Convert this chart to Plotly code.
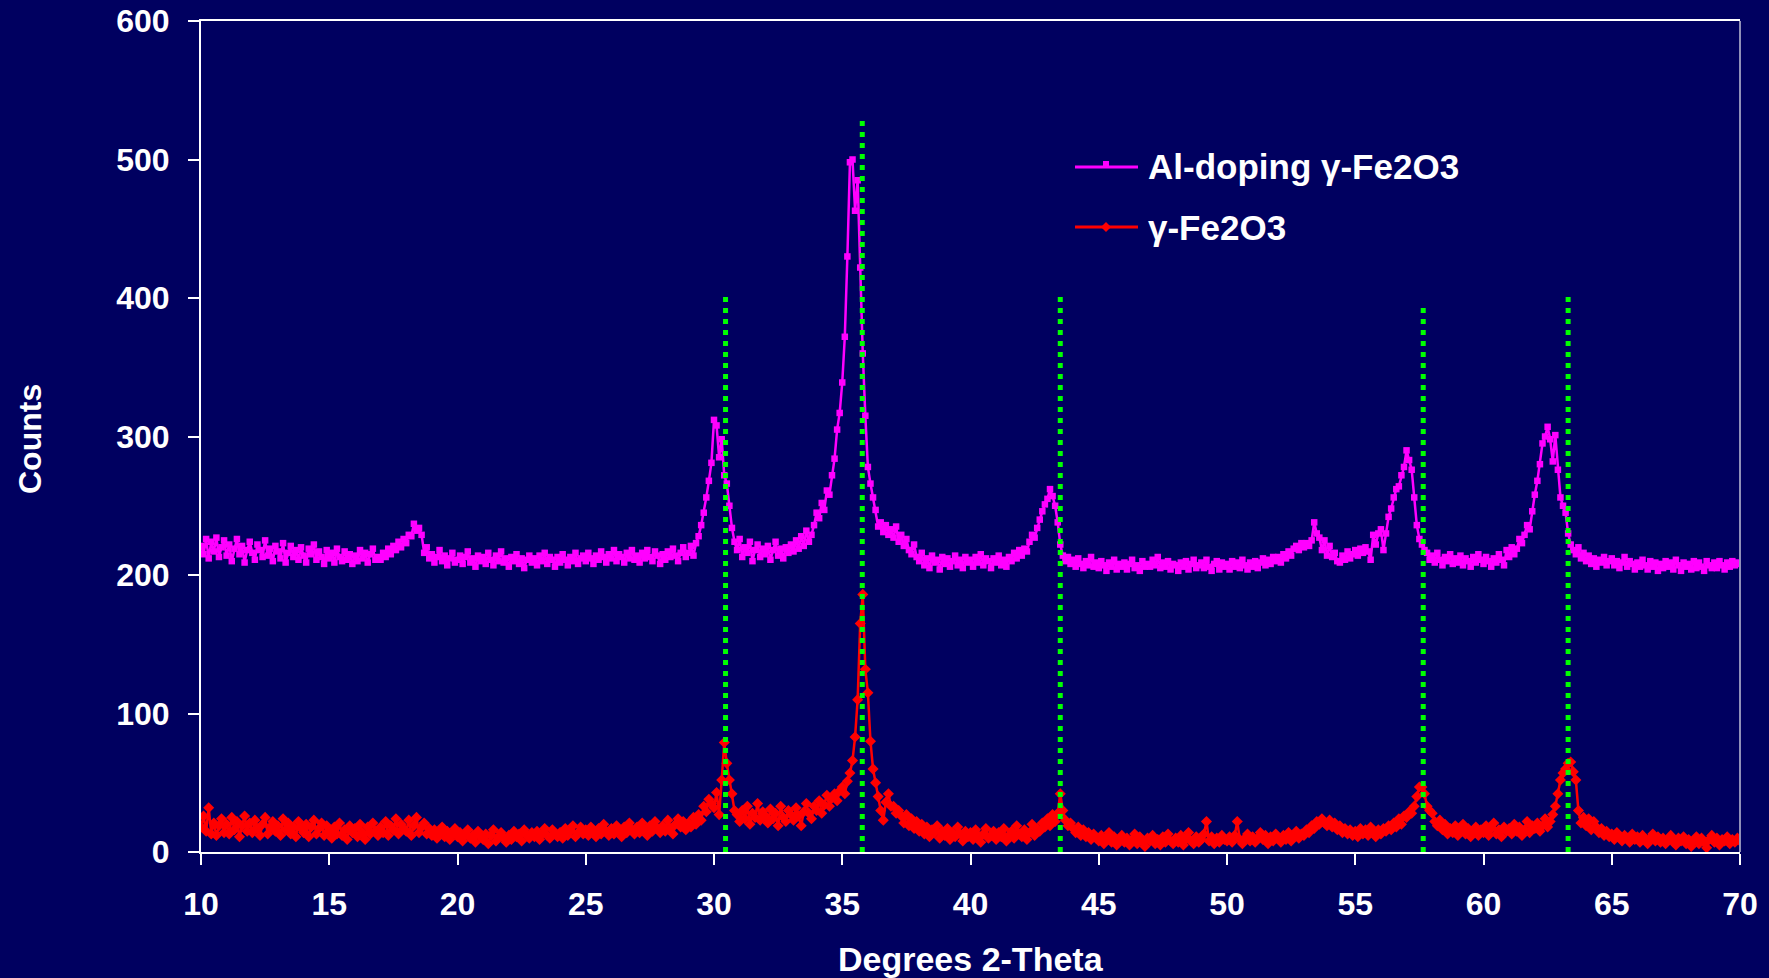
import plotly.graph_objects as go

# ---------------- data ----------------
two_theta_start = 10.0
two_theta_step = 0.1

al_doped_counts = [
    221, 215, 226, 212, 224, 217, 227, 213, 220, 225,   # 10
    214, 222, 210, 219, 226, 215, 221, 209, 218, 224,   # 11
    216, 211, 222, 218, 213, 225, 214, 219, 210, 221,   # 12
    217, 212, 223, 209, 216, 221, 213, 218, 211, 220,   # 13
    214, 209, 219, 215, 222, 211, 217, 213, 208, 218,   # 14
    212, 216, 209, 219, 213, 210, 217, 211, 215, 208,   # 15
    214, 210, 218, 212, 216, 209, 215, 219, 211, 213,   # 16
    211, 216, 213, 219, 215, 221, 218, 224, 220, 226,   # 17
    223, 229, 228, 237, 232, 234, 229, 216, 220, 212,   # 18
    215, 209, 213, 218, 210, 214, 207, 212, 216, 209,   # 19
    211, 214, 208, 213, 217, 209, 212, 206, 214, 210,   # 20
    213, 208, 216, 211, 207, 214, 210, 217, 209, 212,   # 21
    206, 213, 210, 215, 208, 212, 205, 211, 214, 209,   # 22
    212, 207, 214, 210, 216, 208, 213, 211, 206, 213,   # 23
    209, 215, 211, 207, 213, 210, 216, 208, 212, 214,   # 24
    210, 216, 212, 208, 214, 211, 217, 213, 209, 215,   # 25
    212, 218, 210, 215, 213, 209, 216, 212, 218, 211,   # 26
    214, 209, 216, 212, 218, 213, 210, 217, 214, 208,   # 27
    215, 211, 217, 213, 219, 214, 210, 216, 220, 213,   # 28
    216, 221, 214, 223, 228, 236, 245, 256, 268, 281,   # 29
    312, 308, 285, 298, 272, 266, 250, 234, 224, 218,   # 30
    226, 213, 220, 216, 224, 210, 218, 222, 213, 219,   # 31
    215, 221, 211, 218, 224, 214, 219, 212, 220, 216,   # 32
    222, 217, 225, 219, 228, 221, 232, 224, 229, 236,   # 33
    245, 241, 252, 247, 261, 258, 272, 284, 305, 317,   # 34
    339, 372, 430, 498, 500, 463, 485, 422, 360, 315,   # 35
    278, 266, 256, 247, 235, 238, 231, 236, 229, 233,   # 36
    227, 235, 224, 229, 221, 226, 218, 215, 222, 213,   # 37
    210, 216, 207, 212, 205, 214, 209, 211, 204, 213,   # 38
    208, 212, 206, 210, 214, 207, 211, 205, 213, 209,   # 39
    211, 206, 213, 209, 215, 207, 212, 210, 205, 212,   # 40
    209, 214, 207, 211, 206, 213, 210, 216, 212, 218,   # 41
    214, 219, 217, 224, 229, 227, 234, 240, 246, 251,   # 42
    255, 262, 257, 250, 238, 222, 214, 210, 213, 208,   # 43
    211, 206, 212, 208, 205, 210, 207, 213, 206, 209,   # 44
    205, 210, 207, 203, 209, 206, 211, 204, 208, 206,   # 45
    209, 204, 208, 211, 205, 207, 203, 210, 206, 208,   # 46
    206, 211, 207, 213, 205, 209, 206, 210, 204, 208,   # 47
    207, 203, 209, 206, 210, 204, 208, 211, 205, 207,   # 48
    209, 205, 211, 206, 203, 208, 210, 204, 209, 206,   # 49
    208, 204, 210, 206, 209, 205, 211, 207, 204, 209,   # 50
    206, 210, 205, 209, 212, 207, 211, 208, 213, 210,   # 51
    213, 209, 215, 212, 217, 214, 219, 221, 218, 223,   # 52
    220, 223, 221, 225, 238, 230, 227, 218, 225, 214,   # 53
    221, 213, 216, 210, 209, 214, 211, 217, 212, 215,   # 54
    218, 214, 219, 216, 220, 217, 211, 229, 222, 230,   # 55
    233, 218, 230, 242, 248, 256, 262, 264, 272, 278,   # 56
    290, 283, 276, 256, 236, 226, 222, 218, 216, 211,   # 57
    214, 209, 216, 211, 207, 213, 210, 215, 208, 212,   # 58
    209, 214, 207, 212, 210, 206, 213, 209, 215, 211,   # 59
    208, 213, 210, 206, 212, 209, 215, 211, 207, 218,   # 60
    213, 220, 215, 219, 226, 223, 229, 236, 233, 246,   # 61
    258, 268, 280, 295, 300, 307, 298, 282, 301, 276,   # 62
    256, 250, 245, 230, 222, 218, 215, 220, 212, 216,   # 63
    210, 214, 208, 212, 206, 211, 209, 213, 207, 210,   # 64
    212, 207, 210, 205, 209, 213, 206, 210, 208, 204,   # 65
    209, 206, 211, 207, 204, 210, 206, 209, 203, 208,   # 66
    205, 210, 206, 209, 204, 211, 207, 203, 209, 206,   # 67
    208, 204, 210, 205, 209, 206, 203, 210, 207, 205,   # 68
    209, 205, 210, 207, 204, 209, 206, 210, 207, 209,   # 69
    208,                                                # 70
]

pure_counts = [
    18, 26, 15, 32, 13, 21, 12, 19, 24, 14,   # 10
    20, 13, 25, 16, 22, 11, 19, 26, 15, 21,   # 11
    14, 23, 17, 12, 20, 25, 13, 18, 22, 15,   # 12
    19, 12, 24, 16, 21, 13, 18, 11, 22, 17,   # 13
    14, 20, 11, 18, 23, 13, 17, 21, 12, 19,   # 14
    15, 10, 18, 13, 21, 12, 16, 9, 19, 14,    # 15
    17, 11, 20, 14, 9, 18, 13, 21, 15, 12,    # 16
    18, 14, 22, 12, 19, 16, 24, 13, 20, 17,   # 17
    15, 23, 12, 19, 25, 14, 18, 21, 13, 17,   # 18
    12, 16, 10, 14, 18, 11, 15, 9, 13, 17,    # 19
    11, 14, 8, 13, 16, 10, 12, 7, 15, 11,     # 20
    9, 13, 6, 12, 16, 8, 11, 14, 10, 7,       # 21
    12, 9, 15, 11, 13, 8, 16, 12, 10, 14,     # 22
    11, 15, 9, 13, 17, 12, 10, 16, 13, 11,    # 23
    14, 10, 17, 12, 15, 19, 11, 14, 18, 13,   # 24
    16, 12, 18, 14, 11, 17, 13, 20, 15, 12,   # 25
    17, 13, 19, 15, 11, 18, 14, 21, 16, 13,   # 26
    18, 14, 21, 16, 12, 19, 15, 22, 17, 14,   # 27
    19, 15, 23, 17, 13, 20, 24, 18, 22, 16,   # 28
    21, 18, 25, 20, 27, 23, 33, 29, 38, 35,   # 29
    32, 43, 27, 52, 79, 64, 52, 42, 30, 27,   # 30
    22, 30, 24, 33, 20, 28, 25, 35, 23, 29,   # 31
    26, 21, 31, 24, 28, 19, 33, 25, 22, 30,   # 32
    27, 23, 32, 26, 19, 29, 35, 28, 24, 33,   # 33
    30, 37, 28, 34, 41, 33, 39, 42, 37, 44,   # 34
    47, 42, 51, 57, 66, 83, 110, 165, 186, 132,  # 35
    115, 80, 60, 50, 40, 30, 23, 36, 42, 33,  # 36
    33, 28, 30, 26, 21, 27, 19, 24, 17, 22,   # 37
    15, 20, 13, 18, 11, 16, 14, 19, 10, 15,   # 38
    12, 17, 9, 14, 11, 18, 13, 8, 15, 11,     # 39
    14, 9, 16, 12, 7, 13, 17, 10, 12, 15,     # 40
    9, 14, 11, 17, 8, 12, 15, 10, 19, 13,     # 41
    11, 16, 9, 14, 20, 12, 17, 15, 21, 18,    # 42
    24, 19, 27, 22, 28, 42, 30, 23, 19, 21,   # 43
    17, 14, 18, 12, 16, 11, 14, 9, 13, 10,    # 44
    8, 12, 6, 10, 14, 7, 11, 5, 9, 12,        # 45
    7, 10, 5, 9, 13, 6, 11, 8, 4, 10,         # 46
    8, 12, 6, 9, 5, 11, 7, 13, 8, 6,          # 47
    10, 7, 12, 5, 9, 14, 8, 6, 11, 7,         # 48
    9, 13, 22, 8, 11, 6, 10, 7, 12, 9,        # 49
    8, 11, 7, 12, 22, 9, 6, 10, 13, 8,        # 50
    11, 7, 10, 14, 9, 12, 6, 11, 8, 13,       # 51
    10, 7, 12, 9, 14, 8, 11, 15, 10, 13,      # 52
    12, 16, 14, 19, 17, 22, 20, 24, 21, 19,   # 53
    23, 18, 21, 16, 19, 14, 17, 13, 16, 12,   # 54
    15, 11, 17, 13, 16, 12, 18, 14, 11, 16,   # 55
    13, 17, 15, 19, 16, 21, 18, 24, 20, 26,   # 56
    25, 29, 28, 33, 40, 47, 47, 42, 33, 30,   # 57
    28, 22, 19, 23, 16, 20, 13, 17, 14, 19,   # 58
    12, 16, 20, 13, 17, 11, 15, 18, 12, 16,   # 59
    14, 19, 12, 17, 21, 13, 16, 11, 18, 15,   # 60
    17, 13, 20, 15, 18, 12, 16, 22, 14, 19,   # 61
    17, 21, 15, 19, 24, 18, 22, 27, 33, 42,   # 62
    52, 57, 60, 64, 65, 58, 52, 30, 21, 25,   # 63
    19, 24, 16, 22, 18, 14, 17, 12, 15, 11,   # 64
    13, 9, 14, 11, 8, 12, 10, 7, 13, 9,       # 65
    11, 7, 12, 9, 6, 10, 13, 8, 11, 7,        # 66
    10, 6, 9, 12, 7, 5, 10, 8, 11, 6,         # 67
    9, 4, 8, 11, 6, 10, 7, 3, 9, 12,          # 68
    7, 10, 5, 9, 8, 11, 6, 9, 7, 10,          # 69
    8,                                        # 70
]

# reference peak positions (green dotted markers) and their heights
ref_positions = [30.45, 35.78, 43.5, 57.65, 63.3]
ref_heights = [404, 530, 404, 393, 404]

series_names = ["Al-doping γ-Fe2O3", "γ-Fe2O3"]
x_ticks = [10, 15, 20, 25, 30, 35, 40, 45, 50, 55, 60, 65, 70]
y_ticks = [0, 100, 200, 300, 400, 500, 600]

two_theta = [round(two_theta_start + i * two_theta_step, 2) for i in range(len(al_doped_counts))]

# ---------------- layout constants ----------------
W, H = 1769, 978
L, R, T, B = 201, 1740, 21, 852
BG = "#000060"
FONT = "Arial, Liberation Sans, sans-serif"
MAGENTA = "#FF00FF"
RED = "#FF0000"
GREEN = "#00FF00"


def px(xp):
    return (xp - L) / (R - L)


def py(yp):
    return (B - yp) / (B - T)


fig = go.Figure()

fig.add_trace(go.Scatter(
    x=two_theta, y=al_doped_counts, mode="lines+markers", name=series_names[0],
    line=dict(color=MAGENTA, width=2.5),
    marker=dict(symbol="square", size=6.5, color=MAGENTA),
))
fig.add_trace(go.Scatter(
    x=two_theta, y=pure_counts, mode="lines+markers", name=series_names[1],
    line=dict(color=RED, width=2.5),
    marker=dict(symbol="diamond", size=8.5, color=RED),
))
for xr, hr in zip(ref_positions, ref_heights):
    fig.add_trace(go.Scatter(
        x=[xr, xr], y=[0, hr], mode="lines", showlegend=False,
        line=dict(color=GREEN, width=5, dash="5px,6px"),
        hoverinfo="skip",
    ))

# custom legend (line sample + marker + text)
shapes = []
legend_rows = [(167, MAGENTA, "square"), (227, RED, "diamond")]
for (yrow, col, sym) in legend_rows:
    shapes.append(dict(type="line", xref="paper", yref="paper",
                       x0=px(1075), x1=px(1138), y0=py(yrow), y1=py(yrow),
                       line=dict(color=col, width=3)))
    if sym == "square":
        shapes.append(dict(type="rect", xref="paper", yref="paper",
                           x0=px(1103), x1=px(1109), y0=py(yrow - 6), y1=py(yrow),
                           fillcolor=col, line=dict(width=0)))
    else:
        cx, cy, r = 1106, yrow, 5
        path = "M{},{} L{},{} L{},{} L{},{} Z".format(
            px(cx - r), py(cy), px(cx), py(cy - r), px(cx + r), py(cy), px(cx), py(cy + r))
        shapes.append(dict(type="path", xref="paper", yref="paper", path=path,
                           fillcolor=col, line=dict(width=0)))

# right border (greyish)
shapes.append(dict(type="line", xref="paper", yref="paper", x0=1, x1=1, y0=0, y1=1,
                   line=dict(color="#9090B8", width=2)))

annotations = [
    dict(text=series_names[0], xref="paper", yref="paper", x=px(1146), y=py(166),
         xanchor="left", yanchor="middle", showarrow=False,
         font=dict(family=FONT, size=35, color="white", weight="bold")),
    dict(text=series_names[1], xref="paper", yref="paper", x=px(1146), y=py(227),
         xanchor="left", yanchor="middle", showarrow=False,
         font=dict(family=FONT, size=35, color="white", weight="bold")),
    dict(text="Degrees 2-Theta", xref="paper", yref="paper", x=0.5, y=py(959),
         xanchor="center", yanchor="middle", showarrow=False,
         font=dict(family=FONT, size=34, color="white", weight="bold")),
    dict(text="Counts", xref="paper", yref="paper", x=px(30), y=py(439),
         xanchor="center", yanchor="middle", showarrow=False, textangle=-90,
         font=dict(family=FONT, size=32, color="white", weight="bold")),
]

fig.update_layout(
    width=W, height=H,
    margin=dict(l=L, r=W - R, t=T, b=H - B, autoexpand=False),
    paper_bgcolor=BG, plot_bgcolor=BG,
    showlegend=False,
    shapes=shapes,
    annotations=annotations,
    font=dict(family=FONT, color="white"),
)
fig.update_xaxes(
    range=[10, 70], tickvals=x_ticks, ticks="outside", ticklen=11, tickwidth=2,
    tickcolor="white", showline=True, linecolor="white", linewidth=2, mirror=True,
    showgrid=False, zeroline=False, ticklabelstandoff=12,
    tickfont=dict(family=FONT, size=32, color="white", weight="bold"),
)
fig.update_yaxes(
    range=[0, 600], tickvals=y_ticks, ticks="outside", ticklen=11, tickwidth=2,
    tickcolor="white", showline=True, linecolor="white", linewidth=2,
    showgrid=False, zeroline=False, ticklabelstandoff=12,
    tickfont=dict(family=FONT, size=32, color="white", weight="bold"),
)

fig.write_html("out.html")
